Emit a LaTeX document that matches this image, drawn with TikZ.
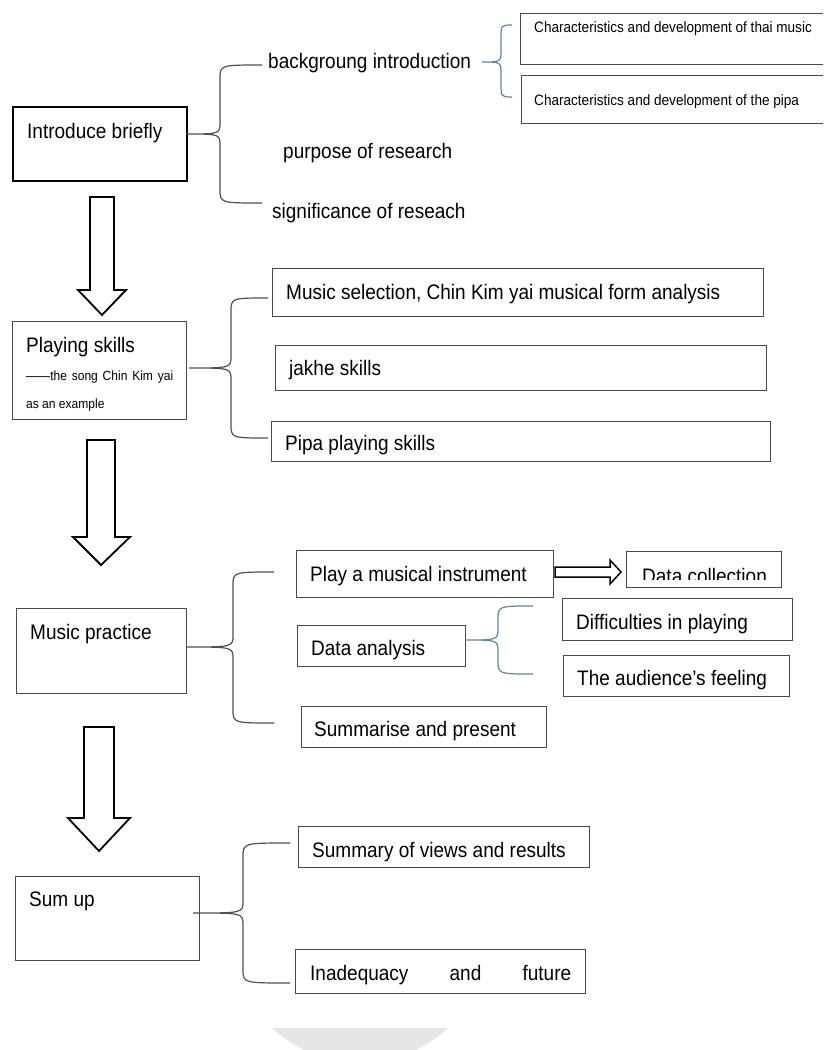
\documentclass[tikz,border=0pt]{standalone}
\usepackage{fontspec}
\setmainfont{Liberation Sans}[FakeStretch=0.905]
\usetikzlibrary{calc}
\definecolor{boxc}{HTML}{4A4A4A}
\definecolor{bracec}{HTML}{505050}
\definecolor{bluec}{HTML}{5F84A6}
\definecolor{greyc}{HTML}{E6E6E6}
\newcommand\mybrace[5]{%
  \draw[#1] (#4) .. controls (#4 -| #3) .. ($(#4 -| #3)+(0,14)$)
    -- ($(#2 -| #3)+(0,-12)$) .. controls (#2 -| #3) .. (#2)
    .. controls (#2 -| #3) .. ($(#2 -| #3)+(0,12)$)
    -- ($(#5 -| #3)+(0,-14)$) .. controls (#5 -| #3) .. (#5);}
\tikzset{
  x=1pt, y=-1pt,
  box/.style={draw=boxc, line width=1.3pt, inner sep=0pt, anchor=north west},
  txt/.style={anchor=base west, inner sep=0pt, font=\fontsize{21}{25}\selectfont},
  smalltxt/.style={anchor=base west, inner sep=0pt, font=\fontsize{15}{18}\selectfont},
  tinytxt/.style={anchor=base west, inner sep=0pt, font=\fontsize{13.3}{16}\selectfont},
  brace/.style={draw=bracec, line width=1.2pt},
  bluebrace/.style={draw=bluec, line width=1.2pt},
  blockarrow/.style={draw=black, line width=1.8pt, fill=white, line join=miter},
}
\newcommand\boxat[5]{\node[box, minimum width=#4-#2, minimum height=#5-#3] (#1) at (#2,#3) {};}
\begin{document}
\begin{tikzpicture}
\clip (0,0) rectangle (823,1050);
\fill[white] (0,0) rectangle (823,1050);

% ---------- boxes ----------
\node[box, draw=black, line width=2pt, minimum width=174, minimum height=74] (ib) at (12,106) {};
\boxat{ps}{12}{321}{186}{419}
\boxat{mp}{16}{608}{186}{693}
\boxat{su}{15}{876}{199}{960}
\boxat{c1}{520}{13}{828}{64}
\boxat{c2}{521}{75}{828}{123}
\boxat{ms}{272}{268}{763}{316}
\boxat{jk}{275}{345}{766}{390}
\boxat{pp}{271}{421}{770}{461}
\boxat{pl}{296}{550}{553}{597}
\boxat{dc}{626}{551}{781}{587}
\boxat{da}{297}{625}{465}{666}
\boxat{df}{562}{598}{792}{640}
\boxat{au}{563}{655}{789}{696}
\boxat{sp}{301}{706}{546}{747}
\boxat{sv}{298}{826}{589}{867}
\boxat{iq}{295}{949}{585}{993}

% ---------- texts ----------
\node[txt] (ibt) at (27,138) {Introduce briefly};
\node[txt] (bg) at (268,68) {backgroung introduction};
\node[txt] (pr) at (283,158) {purpose of research};
\node[txt] (sg) at (272,218) {significance of reseach};
\node[smalltxt] (c1t) at (534,32) {Characteristics and development of thai music};
\node[smalltxt] (c2t) at (534,105) {Characteristics and development of the pipa};
\node[txt] (pst) at (26,352) {Playing skills};
\node[tinytxt] (pst2) at (26,380) {\makebox[147pt][s]{——the song Chin Kim yai}};
\node[tinytxt] (pst3) at (26,408) {as an example};
\node[txt] (mst) at (286,299) {Music selection, Chin Kim yai musical form analysis};
\node[txt] (jkt) at (289,375) {jakhe skills};
\node[txt] (ppt) at (285,450) {Pipa playing skills};
\node[txt] (plt) at (310,581) {Play a musical instrument};
\begin{scope}
  \clip (627,552) rectangle (780,579);
  \node[txt] (dct) at (642,583) {Data collection};
\end{scope}
\node[txt] (mpt) at (30,639) {Music practice};
\node[txt] (dft) at (576,629) {Difficulties in playing};
\node[txt] (dat) at (311,655) {Data analysis};
\node[txt] (aut) at (577,685) {The audience’s feeling};
\node[txt] (spt) at (314,736) {Summarise and present};
\node[txt] (svt) at (312,857) {Summary of views and results};
\node[txt] (sut) at (29,906) {Sum up};
\node[txt] (iqt) at (310,980) {\makebox[261pt][s]{Inadequacy and future}};

% ---------- braces ----------
\coordinate (b1t) at (186,134); \coordinate (b1v) at (220,0);
\coordinate (b1a) at (262,65);  \coordinate (b1b) at (262,203);
\mybrace{brace}{b1t}{b1v}{b1a}{b1b}

\coordinate (b2t) at (482,62);  \coordinate (b2v) at (501,0);
\coordinate (b2a) at (512,25);  \coordinate (b2b) at (512,97);
\mybrace{bluebrace}{b2t}{b2v}{b2a}{b2b}

\coordinate (b3t) at (189,368); \coordinate (b3v) at (231,0);
\coordinate (b3a) at (268,298); \coordinate (b3b) at (268,438);
\mybrace{brace}{b3t}{b3v}{b3a}{b3b}

\coordinate (b4t) at (186,647); \coordinate (b4v) at (233,0);
\coordinate (b4a) at (274,572); \coordinate (b4b) at (274,723);
\mybrace{brace}{b4t}{b4v}{b4a}{b4b}

\coordinate (b5t) at (465,640); \coordinate (b5v) at (498,0);
\coordinate (b5a) at (533,606); \coordinate (b5b) at (533,674);
\mybrace{bluebrace}{b5t}{b5v}{b5a}{b5b}

\coordinate (b6t) at (193,913); \coordinate (b6v) at (243,0);
\coordinate (b6a) at (290,843); \coordinate (b6b) at (290,983);
\mybrace{brace}{b6t}{b6v}{b6a}{b6b}

% ---------- block arrows ----------
\draw[blockarrow] (90,197) -- (114,197) -- (114,290) -- (126,290) -- (102,315)
  -- (78,290) -- (90,290) -- cycle;
\draw[blockarrow] (87,440) -- (115,440) -- (115,537) -- (130,537) -- (101,565)
  -- (73,537) -- (87,537) -- cycle;
\draw[blockarrow] (84,727) -- (114,727) -- (114,818) -- (130,818) -- (99,851)
  -- (68,818) -- (84,818) -- cycle;
\draw[blockarrow, line width=1.5pt] (555,567) -- (610,567) -- (610,560) -- (621,572)
  -- (610,584) -- (610,577) -- (555,577) -- cycle;

% ---------- grey shape ----------
\begin{scope}
  \clip (0,1028) rectangle (823,1050);
  \fill[greyc] (360,936) circle[radius=127pt];
\end{scope}
\end{tikzpicture}
\end{document}
